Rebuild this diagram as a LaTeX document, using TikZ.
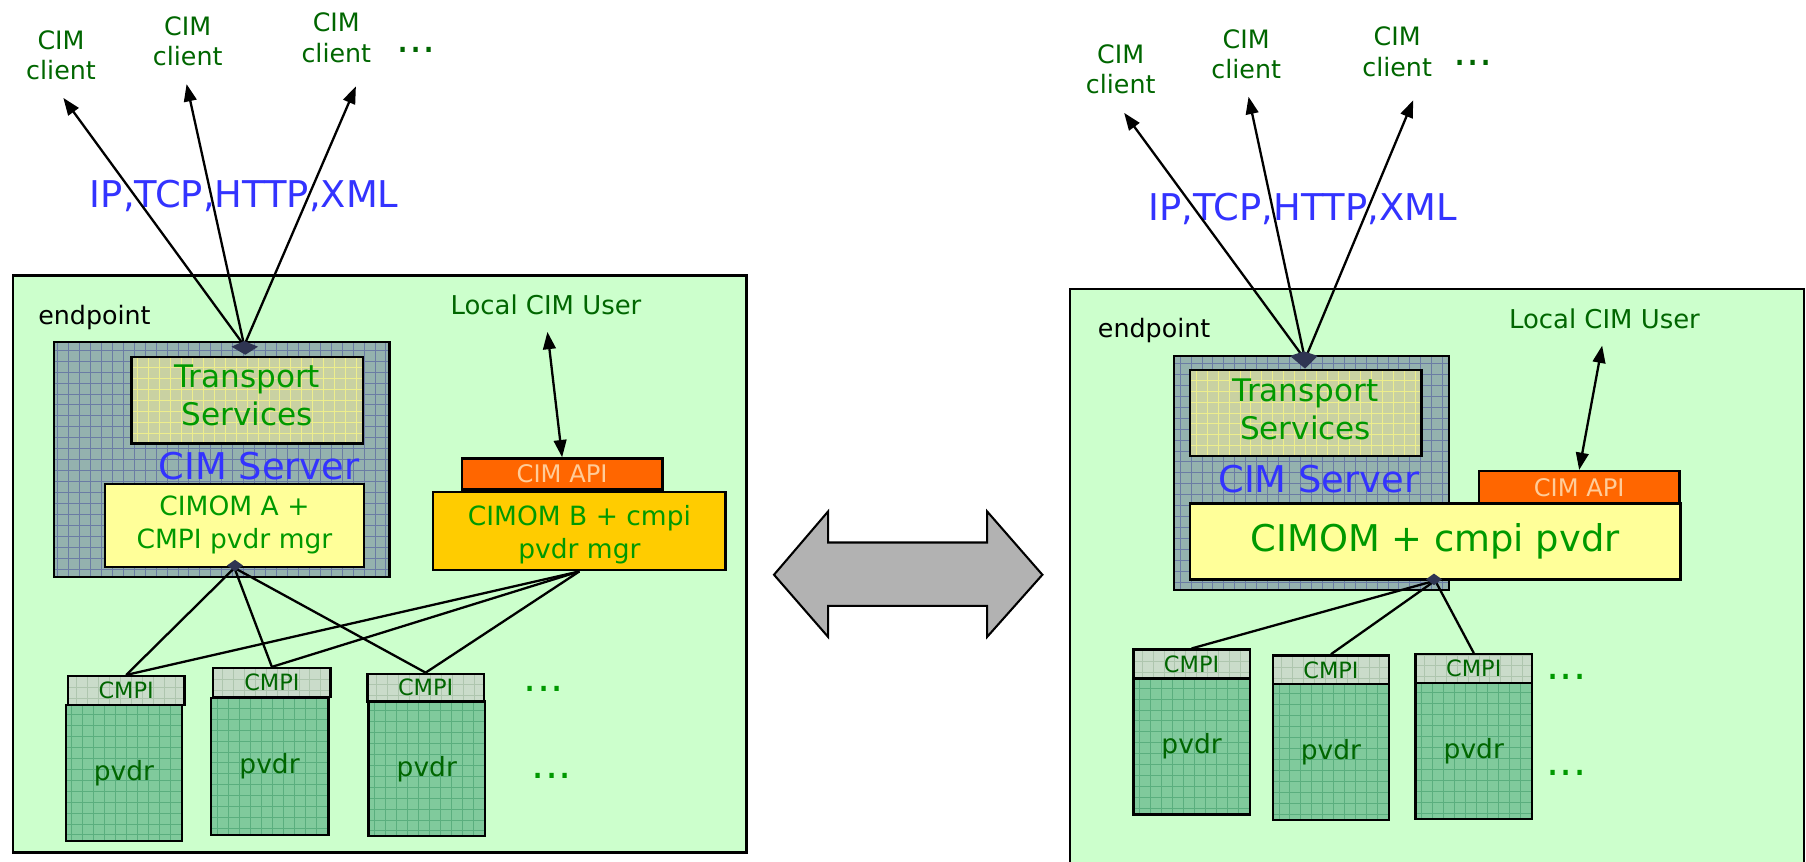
\documentclass[tikz,border=0pt]{standalone}
\usepackage{fontspec}
\setmainfont{DejaVu Sans}
\usetikzlibrary{arrows.meta}

\definecolor{epfill}{HTML}{CCFFCC}
\definecolor{dkgreen}{HTML}{006600}
\definecolor{mdgreen}{HTML}{009900}
\definecolor{protoblue}{HTML}{3333FF}
\definecolor{apifill}{HTML}{FF6600}
\definecolor{apitext}{HTML}{FFCC99}
\definecolor{cimombfill}{HTML}{FFCC00}
\definecolor{cimomfill}{HTML}{FFFF99}
\definecolor{srvbase}{HTML}{94B2AE}
\definecolor{srvgrid}{HTML}{6A7CA4}
\definecolor{tsbase}{HTML}{C9D1A2}
\definecolor{tsgrid}{HTML}{EEEE8C}
\definecolor{pvbase}{HTML}{80CA9C}
\definecolor{pvgrid}{HTML}{5AAE7E}
\definecolor{cmpibase}{HTML}{CADCCA}
\definecolor{cmpigrid}{HTML}{AEC6AE}
\definecolor{hubdark}{HTML}{2F3552}
\definecolor{swapgrey}{HTML}{B2B2B2}

\tikzset{
  box/.style={draw=black, line width=2.1pt, inner sep=0pt, anchor=north west, align=center},
  gridfill/.style n args={3}{fill=#1, path picture={
      \draw[#2, line width=0.8pt, step=#3]
        (path picture bounding box.south west) grid (path picture bounding box.north east);}},
  srvtex/.style={gridfill={srvbase}{srvgrid}{9.5pt}},
  tstex/.style={gridfill={tsbase}{tsgrid}{9.5pt}},
  pvtex/.style={gridfill={pvbase}{pvgrid}{9.5pt}},
  cmpitex/.style={gridfill={cmpibase}{cmpigrid}{9.5pt}},
  conn/.style={draw=black, line width=2pt},
  tip/.style={-{Triangle[length=15pt,width=11pt]}},
  dtip/.style={{Triangle[length=15pt,width=11pt]}-{Triangle[length=15pt,width=11pt]}},
  client/.style={text=dkgreen, align=center, font=\fontsize{22}{26.5}\selectfont},
  proto/.style={text=protoblue, font=\fontsize{32}{38}\selectfont},
  eplabel/.style={text=black, font=\fontsize{22}{26}\selectfont},
  userlabel/.style={text=dkgreen, font=\fontsize{22.5}{27}\selectfont},
  tslabel/.style={text=mdgreen, align=center, font=\fontsize{27}{33}\selectfont},
  srvlabel/.style={text=protoblue, font=\fontsize{32}{38}\selectfont},
  cimomlabel/.style={text=mdgreen, align=center, font=\fontsize{23}{28.5}\selectfont},
  apilabel/.style={text=apitext, font=\fontsize{21}{24}\selectfont},
  cmpilabel/.style={text=dkgreen, font=\fontsize{19.5}{23}\selectfont},
  pvlabel/.style={text=dkgreen, font=\fontsize{23}{28}\selectfont},
  dots/.style={text=mdgreen, font=\fontsize{36}{40}\selectfont},
  topdots/.style={text=dkgreen, font=\fontsize{36}{40}\selectfont},
}

\begin{document}
\begin{tikzpicture}[x=1pt, y=-1pt]
\useasboundingbox (0,0) rectangle (1568,748);

% ================= left: two CIMOMs side by side =================
\node[box, fill=epfill, minimum width=637pt, minimum height=501pt] (epL) at (10,238) {};
\node[eplabel] (eplabL) at (82,276) {endpoint};
\node[userlabel] (userL) at (474,265) {Local CIM User};

\node[box, srvtex, minimum width=291pt, minimum height=204pt] (srvL) at (46,296) {};
\node[box, tstex, minimum width=201pt, minimum height=75pt] (tsL) at (113,309) {};
\node[tslabel] (tsLtext) at ([yshift=4pt]tsL.center) {Transport\\Services};
\node[srvlabel] (srvlabL) at (225,405) {CIM Server};
\node[box, fill=cimomfill, cimomlabel, minimum width=225pt, minimum height=72pt] (cimomA) at (90,419) {CIMOM A +\\CMPI pvdr mgr};

\node[box, fill=apifill, apilabel, minimum width=174pt, minimum height=27pt] (apiL) at (400,397) {CIM API};
\node[box, fill=cimombfill, minimum width=254pt, minimum height=68pt] (cimomB) at (375,426) {};
\node[cimomlabel] (cimomBtext) at ([yshift=-3.5pt]cimomB.center) {CIMOM B + cmpi\\pvdr mgr};

% providers
\node[box, pvtex, pvlabel, minimum width=101pt, minimum height=118pt] (pvL1) at (56,611) {pvdr};
\node[box, cmpitex, cmpilabel, minimum width=101pt, minimum height=25pt] (cmpiL1) at (58,586) {CMPI};
\node[box, pvtex, pvlabel, minimum width=102pt, minimum height=119pt] (pvL2) at (182,605) {pvdr};
\node[box, cmpitex, cmpilabel, minimum width=102pt, minimum height=25pt] (cmpiL2) at (184,579) {CMPI};
\node[box, pvtex, pvlabel, minimum width=101pt, minimum height=117pt] (pvL3) at (319,608) {pvdr};
\node[box, cmpitex, cmpilabel, minimum width=101pt, minimum height=24pt] (cmpiL3) at (318,584) {CMPI};
\node[dots] (dotsL1) at (472,598) {...};
\node[dots] (dotsL2) at (479,674) {...};

% provider links
\foreach \p in {cmpiL1, cmpiL2, cmpiL3} {
  \draw[conn] (cimomA.south) -- (\p.north);
  \draw[conn] (cimomB.south) -- (\p.north);
}
\fill[hubdark] (197,491) -- (204,486) -- (211,491) -- (204,496) -- cycle;

% local user
\draw[conn, dtip, shorten <=11pt] (userL.south) -- (apiL.north);

% clients
\node[client] (cliL1) at (53,48) {CIM\\client};
\node[client] (cliL2) at (163,36) {CIM\\client};
\node[client] (cliL3) at (292,33) {CIM\\client};
\node[topdots] (topdotsL) at (361,43) {...};
\node[proto] (protoL) at (212,170) {IP,TCP,HTTP,XML};
\coordinate (hubL) at (212,300);
\coordinate (tipL1) at (55,85);
\coordinate (tipL2) at (162,73);
\coordinate (tipL3) at (309,75);
\draw[conn, tip] (hubL) -- (tipL1);
\draw[conn, tip] (hubL) -- (tipL2);
\draw[conn, tip] (hubL) -- (tipL3);
\fill[hubdark] (201,301) -- (212,296) -- (224,301) -- (213,308) -- cycle;

% ================= middle: equivalence arrow =================
\draw[line width=1.8pt, fill=swapgrey]
  (672,499) -- (719,444) -- (719,471) -- (857,471) -- (857,444) -- (905,499)
  -- (857,553) -- (857,526) -- (719,526) -- (719,553) -- cycle;

% ================= right: single CIMOM =================
\node[box, fill=epfill, minimum width=637pt, minimum height=520pt] (epR) at (928,250) {};
\node[eplabel] (eplabR) at (1002,287) {endpoint};
\node[userlabel] (userR) at (1393,277) {Local CIM User};

\node[box, srvtex, minimum width=239pt, minimum height=203pt] (srvR) at (1018,308) {};
\node[box, tstex, minimum width=201pt, minimum height=75pt] (tsR) at (1032,320) {};
\node[tslabel] (tsRtext) at ([yshift=3.5pt]tsR.center) {Transport\\Services};
\node[srvlabel] (srvlabR) at (1145,416) {CIM Server};
\node[box, fill=apifill, apilabel, minimum width=174pt, minimum height=28pt] (apiR) at (1283,408) {CIM API};
\node[box, fill=cimomfill, text=mdgreen, font=\fontsize{32}{38}\selectfont, minimum width=426pt, minimum height=66pt] (cimomR) at (1032,436) {CIMOM + cmpi pvdr};

\node[box, pvtex, pvlabel, minimum width=101pt, minimum height=118pt] (pvR1) at (983,588) {pvdr};
\node[box, cmpitex, cmpilabel, minimum width=101pt, minimum height=25pt] (cmpiR1) at (983,563) {CMPI};
\node[box, pvtex, pvlabel, minimum width=101pt, minimum height=118pt] (pvR2) at (1104,593) {pvdr};
\node[box, cmpitex, cmpilabel, minimum width=101pt, minimum height=25pt] (cmpiR2) at (1104,568) {CMPI};
\node[box, pvtex, pvlabel, minimum width=101pt, minimum height=118pt] (pvR3) at (1228,592) {pvdr};
\node[box, cmpitex, cmpilabel, minimum width=101pt, minimum height=25pt] (cmpiR3) at (1228,567) {CMPI};
\node[dots] (dotsR1) at (1360,588) {...};
\node[dots] (dotsR2) at (1360,671) {...};

\foreach \p in {cmpiR1, cmpiR2, cmpiR3} {
  \draw[conn] (cimomR.south) -- (\p.north);
}
\fill[hubdark] (1238,503) -- (1245,498) -- (1252,503) -- (1245,508) -- cycle;

\draw[conn, dtip, shorten <=11pt] (userR.south) -- (apiR.north);

\node[client] (cliR1) at (973,60) {CIM\\client};
\node[client] (cliR2) at (1082,47) {CIM\\client};
\node[client] (cliR3) at (1213,45) {CIM\\client};
\node[topdots] (topdotsR) at (1279,55) {...};
\node[proto] (protoR) at (1131,181) {IP,TCP,HTTP,XML};
\coordinate (hubR) at (1133,312);
\coordinate (tipR1) at (976,98);
\coordinate (tipR2) at (1084,84);
\coordinate (tipR3) at (1227,87);
\draw[conn, tip] (hubR) -- (tipR1);
\draw[conn, tip] (hubR) -- (tipR2);
\draw[conn, tip] (hubR) -- (tipR3);
\fill[hubdark] (1120,309) -- (1132,305) -- (1144,309) -- (1133,320) -- cycle;
\end{tikzpicture}
\end{document}
